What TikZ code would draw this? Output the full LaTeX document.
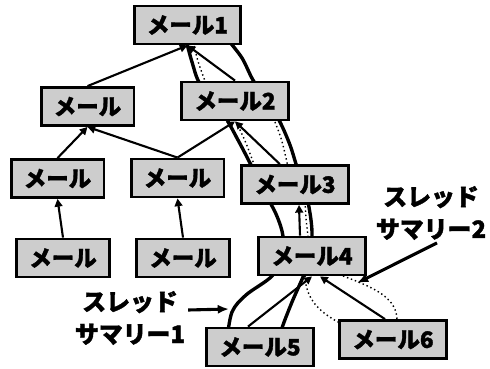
\documentclass[tikz,border=0pt]{standalone}
\usepackage{fontspec}
\usepackage{tikz}
\usetikzlibrary{arrows.meta}
\newfontfamily\jpfont{Noto Sans CJK JP}[BoldFeatures={FakeBold=1.6}]
\definecolor{screengray}{HTML}{CDCDCD}

\tikzset{
  mailbox/.style={draw=black, fill=screengray, line width=2pt,
    minimum height=0.95cm, inner xsep=9pt,
    font=\jpfont\bfseries\fontsize{16}{16}\selectfont},
  reply/.style={-{Triangle[length=5.5pt,width=5.5pt]}, line width=1.5pt},
  summaryline/.style={line width=2.4pt, line cap=round},
  trail/.style={dotted, line width=1pt},
  tag/.style={align=center, inner sep=2pt,
    font=\jpfont\bfseries\fontsize{17}{23}\selectfont},
  pointer/.style={-{Latex[length=8pt,width=6.5pt]}, line width=2.2pt}
}

\begin{document}
\begin{tikzpicture}[x=0.025cm, y=-0.025cm]
\useasboundingbox (0,0) rectangle (490,368);

% thread summary 1, drawn first so the boxes cover it
\draw[summaryline] plot[smooth, tension=0.55] coordinates {
  (186,40) (192,62) (200,84) (220,108) (238,140) (252,167)
  (262,188) (276,214) (283,236) (282,256) (272,276)
  (246,295) (232,312) (227,340)};
\draw[summaryline] plot[smooth, tension=0.55] coordinates {
  (228,40) (242,58) (253,80) (268,102) (280,122) (290,145)
  (297,167) (304,185) (308,202) (311,220) (312,236) (310,258)
  (303,277) (292,302) (282,328) (280,340)};

% thread summary 2
\draw[trail] (194,46) .. controls (198,62) .. (205,81);
\draw[trail] (236,122) .. controls (245,140) .. (255,167);
\draw[trail] (275,122) .. controls (282,140) .. (288,167);
\draw[trail] (305,202) .. controls (306,220) .. (308,236);
\draw[trail] (305,276) .. controls (306,300) and (320,312) .. (338,322);
\draw[trail] (343,276) .. controls (375,288) and (398,298) .. (397,322);

\node[mailbox] (mail1) at (187.5,25) {メール1};
\node[mailbox] (maila) at (87.5,106.5) {メール};
\node[mailbox] (mail2) at (235,101) {メール2};
\node[mailbox] (mailb) at (57.5,178.5) {メール};
\node[mailbox] (mailc) at (177.5,178) {メール};
\node[mailbox] (mail3) at (295,184.5) {メール3};
\node[mailbox] (maild) at (63,258) {メール};
\node[mailbox] (maile) at (183,258) {メール};
\node[mailbox] (mail4) at (312,256) {メール4};
\node[mailbox] (mail5) at (260,347) {メール5};
\node[mailbox] (mail6) at (393,339.5) {メール6};

\draw[reply] (maila.north) -- (mail1.south);
\draw[reply] (mail2.north) -- (mail1.south);
\draw[reply] (mailb.north) -- (maila.south);
\draw[reply] (mailc.north) -- (maila.south);
\draw[reply] (mailc.north) -- (mail2.south);
\draw[reply] ([xshift=-0.38cm]mail3.north) -- (mail2.south);
\draw[reply] (maild.north) -- (mailb.south);
\draw[reply] (maile.north) -- (mailc.south);
\draw[reply] ([xshift=-0.3cm]mail4.north) -- ([xshift=0.1cm]mail3.south);
\draw[reply] ([xshift=-0.3cm]mail5.north) -- (mail4.south);
\draw[reply] ([xshift=-0.2cm]mail6.north) -- ([xshift=0.2cm]mail4.south);

\node[tag] (summaryone) at (130,318) {スレッド\\サマリー1};
\node[tag] (summarytwo) at (431,213) {スレッド\\サマリー2};
\coordinate (tubeone) at (229,309);
\coordinate (tubetwo) at (357,283);
\draw[pointer] ([yshift=0.2cm]summaryone.east) -- (tubeone);
\draw[pointer] ([xshift=0.15cm]summarytwo.south) -- (tubetwo);
\end{tikzpicture}
\end{document}
